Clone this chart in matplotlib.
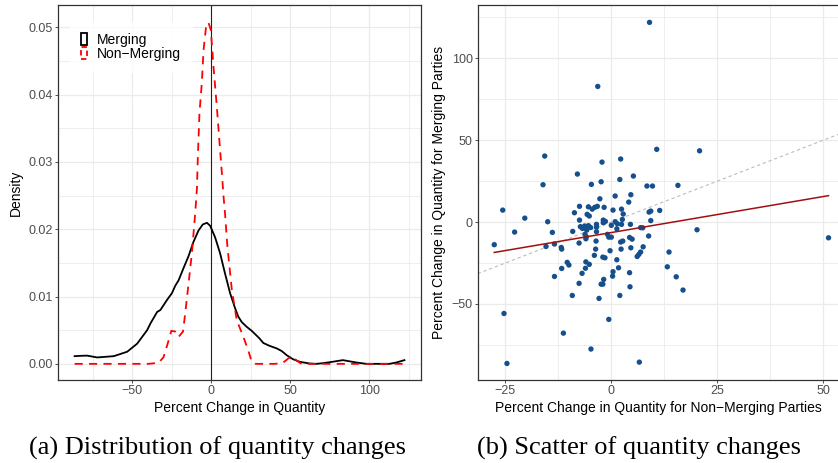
import numpy as np
import matplotlib
matplotlib.use("Agg")
from matplotlib import pyplot as plt
from matplotlib.patches import Patch
from matplotlib.ticker import MultipleLocator, FormatStrFormatter

plt.rcParams['font.family'] = ['Liberation Sans', 'DejaVu Sans']

# density of quantity change, merging parties
merg_x = [-86.6, -81.7, -78.6, -72.3, -61.8, -53.3, -47.0, -40.7, -38.6, -34.4, -32.3, -28.1,
          -25.0, -22.9, -20.8, -17.7, -14.5, -11.4, -8.2, -5.5, -2.9, -0.8, 2.3, 5.5, 8.5, 11.8,
          14.9, 17.0, 19.2, 22.3, 25.5, 30.3, 32.8, 36.5, 41.2, 44.5, 47.5, 51.5, 55.9, 62.2, 66.5,
          70.6, 76.5, 83.2, 91.6, 98.0, 105.0, 112.7, 117.0, 122.1]
merg_y = [0.00114, 0.0012, 0.00122, 0.00095, 0.00114, 0.0018, 0.0030, 0.0050, 0.0060, 0.0077,
          0.0080, 0.0095, 0.0105, 0.0116, 0.0124, 0.0142, 0.0160, 0.0181, 0.0198, 0.0207, 0.02095,
          0.0205, 0.0188, 0.0164, 0.0135, 0.0105, 0.0083, 0.0070, 0.0062, 0.0055, 0.0049, 0.0038,
          0.0031, 0.0027, 0.0023, 0.0019, 0.0013, 0.0007, 0.0003, 0.00005, 0.0, 0.0001, 0.0003,
          0.00055, 0.0002, 0.0, 0.0, 0.0, 0.0002, 0.00055]

# density of quantity change, non-merging parties
nonm_x = [-86.6, -60.0, -40.0, -33.4, -30.3, -27.7, -25.4, -22.9, -20.8, -18.0, -16.6, -14.5,
          -12.4, -10.3, -9.2, -8.6, -7.6, -6.1, -5.0, -3.3, -1.9, -0.4, 1.3, 3.4, 5.0, 6.6, 7.6,
          8.6, 10.1, 12.9, 16.0, 20.2, 23.3, 25.5, 28.0, 40.0, 45.0, 48.6, 51.3, 53.8, 57.0, 80.0,
          100.0, 122.1]
nonm_y = [0.0, 0.0, 0.0, 0.00015, 0.0010, 0.0030, 0.0049, 0.0048, 0.0040, 0.0048, 0.0075, 0.0119,
          0.0164, 0.0223, 0.0260, 0.0308, 0.0372, 0.0417, 0.0466, 0.0503, 0.0507, 0.0496, 0.0441,
          0.0382, 0.0332, 0.0283, 0.0250, 0.0223, 0.0174, 0.0110, 0.0065, 0.0040, 0.0020, 0.0003,
          0.0, 0.0, 0.0001, 0.0008, 0.0011, 0.0005, 0.0, 0.0, 0.0, 0.0]

# scatter: non-merging (x) vs merging (y) percent change
nonmerging = [9.0, -3.2, 10.7, 20.8, -15.7, 2.2, -2.2, -8.0, 5.2, 2.0, -2.4, -16.1, -4.7, 8.4, 9.7,
              15.7, 0.9, 4.6, -2.7, 4.1, -7.5, -5.4, -4.5, -3.9, -3.3, -1.7, 0.4, 2.4, -25.6, 11.4,
              -8.7, -5.7, -5.2, 2.8, 8.9, 9.3, -20.4, -15.0, -7.5, -1.9, -1.4, -1.9, 0.9, 1.4, 2.6,
              2.4, 0.0, 4.5, 9.3, 7.4, 6.9, -7.3, -6.8, -6.3, -5.8, -5.4, -4.9, -3.5, -3.5, 1.3,
              20.2, -22.8, -13.9, -9.1, -3.5, -6.2, -5.9, -6.0, -0.9, -0.6, 0.0, 8.8, 51.2, 4.3,
              4.9, -3.6, 2.2, 2.7, -27.6, -13.4, -15.4, -7.6, 7.5, -11.8, -11.7, 4.6, 2.3, -3.7,
              13.6, 6.9, 6.5, 6.1, -0.3, -4.0, -2.0, -1.5, 1.3, -10.4, -10.0, -6.0, -5.2, -6.1,
              -11.7, 1.7, 13.2, 0.4, 0.3, 4.3, -6.9, -13.4, 15.3, -1.8, -2.4, -2.0, -7.6, 4.4,
              16.9, -9.2, 2.0, -2.9, -25.3, -0.6, -11.3, -4.8, 6.6, -24.6]
merging = [121.9, 82.8, 44.4, 43.5, 40.3, 38.5, 36.6, 29.3, 28.1, 26.0, 24.6, 22.8, 23.0, 22.0, 22.0,
           22.4, 15.9, 16.7, 14.2, 12.2, 9.6, 9.3, 7.9, 9.0, 9.6, 9.0, 7.3, 7.9, 7.3, 7.1,
           5.7, 4.7, 3.7, 4.9, 6.1, 6.7, 2.4, 0.2, 1.2, 1.2, 0.4, -0.4, 0.2, -1.0, 1.6,
           -1.4, -2.0, -1.4, 0.9, -3.5, -3.4, -2.8, -3.9, -2.4, -4.9, -2.2, -3.3, -1.4, -3.1, -4.1,
           -4.7, -6.1, -6.3, -5.7, -5.9, -7.5, -9.0, -10.2, -7.5, -9.2, -9.2, -8.5, -9.6, -9.4,
           -10.4, -11.6, -12.2, -11.6, -13.8, -13.4, -14.9, -12.8, -15.1, -15.5, -16.5, -15.7, -16.5, -16.5,
           -18.3, -18.3, -19.7, -21.0, -17.5, -20.3, -21.4, -21.8, -23.0, -24.6, -26.2, -24.3, -25.8, -28.2,
           -28.3, -27.9, -27.3, -30.3, -33.0, -30.9, -31.3, -33.2, -33.4, -35.0, -37.9, -37.9, -37.4, -39.5,
           -41.5, -44.8, -44.8, -46.6, -55.8, -59.4, -67.8, -77.5, -85.5, -86.3]

# linear fit
fit_intercept = -6.4
fit_slope = 0.44

grid_major = '#EBEBEB'
tick_col = '#4D4D4D'


def style_axes(ax):
    ax.set_facecolor('white')
    ax.grid(True, which='major', color=grid_major, lw=0.9)
    ax.grid(True, which='minor', color=grid_major, lw=0.6)
    ax.set_axisbelow(True)
    for s in ax.spines.values():
        s.set_color('#333333')
        s.set_linewidth(0.9)
    ax.tick_params(which='major', length=2, width=0.6, color='#333333',
                   labelsize=9, labelcolor=tick_col, pad=1.5)
    ax.tick_params(which='minor', length=0)


fig = plt.figure(figsize=(8.38, 4.63), dpi=100)

# (a) densities
ax1 = fig.add_axes([58 / 838, 83 / 463, 363 / 838, 375 / 463])
style_axes(ax1)
ax1.axvline(0, color='#222222', lw=0.8, zorder=2)
ax1.plot(merg_x, merg_y, color='black', lw=1.3, zorder=3)
ax1.plot(nonm_x, nonm_y, color='red', lw=1.3, ls=(0, (4.5, 3.5)), zorder=3)
ax1.set_xlim(-97.1, 132.6)
ax1.set_ylim(-0.0024, 0.0533)
ax1.xaxis.set_major_locator(MultipleLocator(50))
ax1.xaxis.set_minor_locator(MultipleLocator(25))
ax1.yaxis.set_major_locator(MultipleLocator(0.01))
ax1.yaxis.set_minor_locator(MultipleLocator(0.005))
ax1.yaxis.set_major_formatter(FormatStrFormatter('%.2f'))
ax1.set_xlabel('Percent Change in Quantity', fontsize=10, labelpad=3)
ax1.set_ylabel('Density', fontsize=10, labelpad=4)
handles = [Patch(facecolor='white', edgecolor='black', lw=1.3, label='Merging'),
           Patch(facecolor='white', edgecolor='red', lw=1.3, ls=(0, (3, 2)), label='Non\u2212Merging')]
leg = ax1.legend(handles=handles, loc='upper left', bbox_to_anchor=(0.033, 0.955), fontsize=10,
                 frameon=True, fancybox=False, handlelength=0.45, handleheight=0.95,
                 handletextpad=0.7, labelspacing=0.0, borderpad=0.8, borderaxespad=0)
leg.get_frame().set_edgecolor('white')
leg.get_frame().set_facecolor('white')

# (b) scatter
ax2 = fig.add_axes([477.7 / 838, 83 / 463, 361 / 838, 375 / 463])
style_axes(ax2)
ax2.set_xlim(-31.5, 53.6)
ax2.set_ylim(-96.4, 132.5)
xl = np.array(ax2.get_xlim())
ax2.plot(xl, xl, color='#BDBDBD', lw=0.8, ls=(0, (3, 2.5)), zorder=2)
ax2.scatter(nonmerging, merging, s=15, color='#15508C', edgecolors='none', zorder=3)
fx = np.array([min(nonmerging), max(nonmerging)])
ax2.plot(fx, fit_intercept + fit_slope * fx, color='#A01010', lw=1.1, zorder=4)
ax2.xaxis.set_major_locator(MultipleLocator(25))
ax2.xaxis.set_minor_locator(MultipleLocator(12.5))
ax2.yaxis.set_major_locator(MultipleLocator(50))
ax2.yaxis.set_minor_locator(MultipleLocator(25))
ax2.set_xlabel('Percent Change in Quantity for Non\u2212Merging Parties', fontsize=10, labelpad=3)
ax2.set_ylabel('Percent Change in Quantity for Merging Parties', fontsize=10, labelpad=4)

# captions
fig.text(217 / 838, 1 - 448 / 463, '(a) Distribution of quantity changes', ha='center', va='center',
         fontsize=19, family='Liberation Serif')
fig.text(639 / 838, 1 - 448 / 463, '(b) Scatter of quantity changes', ha='center', va='center',
         fontsize=19, family='Liberation Serif')

fig.savefig('out.png', dpi=100)
